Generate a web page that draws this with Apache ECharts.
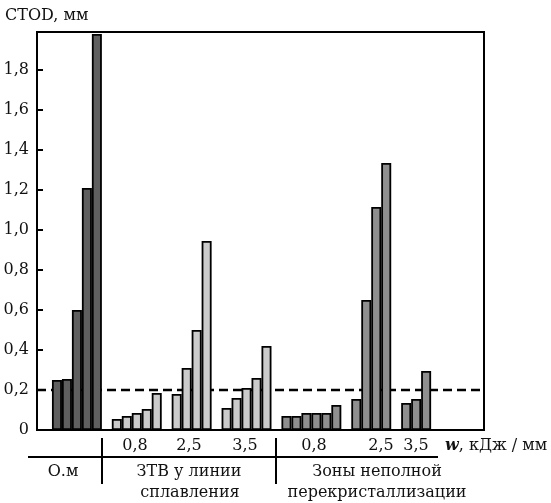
<!DOCTYPE html>
<html lang="ru">
<head>
    <meta charset="UTF-8">
    <title>CTOD</title>
    <script src="https://cdn.jsdelivr.net/npm/echarts@6/dist/echarts.min.js"></script>
    <style>
        html, body { margin: 0; padding: 0; background: #fff; }
    </style>
</head>
<body>
    <div id="main" style="width: 551px; height: 503px;"></div>
    <script type="text/javascript">
        // данные (мм)
        var baseMetal = [0.25, 0.255, 0.6, 1.21, 1.98];          // О.м
        var haz08 = [0.055, 0.07, 0.085, 0.105, 0.185];          // ЗТВ, 0,8
        var haz25 = [0.18, 0.31, 0.50, 0.945];                   // ЗТВ, 2,5
        var haz35 = [0.11, 0.16, 0.21, 0.26, 0.42];              // ЗТВ, 3,5
        var icz08 = [0.07, 0.07, 0.085, 0.085, 0.085, 0.125];    // зоны, 0,8
        var icz25 = [0.155, 0.65, 1.115, 1.335];                 // зоны, 2,5
        var icz35 = [0.135, 0.155, 0.295];                       // зоны, 3,5
        var ctodLimit = 0.2;

        var zoneNames = ['О.м', 'ЗТВ у линии\nсплавления', 'Зоны неполной\nперекристаллизации'];
        var energyLabels = ['0,8', '2,5', '3,5', '0,8', '2,5', '3,5'];
        var yTickLabels = ['0', '0,2', '0,4', '0,6', '0,8', '1,0', '1,2', '1,4', '1,6', '1,8'];

        var groups = [baseMetal, haz08, haz25, haz35, icz08, icz25, icz35];
        var groupZone = [0, 1, 1, 1, 2, 2, 2];
        var zoneColors = ['#5f5f5f', '#cbcbcb', '#8f8f8f'];

        // каждому столбику свой слот, между группами пустой слот
        var barData = [];
        var slot = 0;
        groups.forEach(function (g, gi) {
            g.forEach(function (v) {
                barData.push({ value: [slot, v], itemStyle: { color: zoneColors[groupZone[gi]] } });
                slot++;
            });
            slot++;
        });

        var font = 'DejaVu Serif';
        var ink = '#111';
        var xMin = -2, xMax = 42.8;

        function txt(x, y, s, align) {
            return {
                type: 'text', x: x, y: y,
                style: {
                    text: s, fill: ink, font: '16px "' + font + '"',
                    textAlign: align || 'center', textVerticalAlign: 'middle'
                }
            };
        }
        function seg(x1, y1, x2, y2) {
            return {
                type: 'line',
                shape: { x1: x1, y1: y1, x2: x2, y2: y2 },
                style: { stroke: '#000', lineWidth: 2 }
            };
        }

        var myChart = echarts.init(document.getElementById('main'));
        var option = {
            backgroundColor: '#fff',
            animation: false,
            grid: {
                left: 37, right: 67, top: 32, bottom: 73,
                show: true, borderColor: '#000', borderWidth: 2
            },
            xAxis: [{
                type: 'value', min: xMin, max: xMax,
                axisLine: { show: true, onZero: false, lineStyle: { color: '#000', width: 2 } },
                axisTick: { show: false }, axisLabel: { show: false },
                splitLine: { show: false }
            }],
            yAxis: {
                type: 'value', min: 0, max: 1.99, interval: 0.2,
                axisLine: { show: true, onZero: false, lineStyle: { color: '#000', width: 2 } },
                axisTick: { show: true, inside: true, length: 6, lineStyle: { color: '#000', width: 2 } },
                splitLine: { show: false },
                axisLabel: {
                    margin: 8, color: ink, fontFamily: font, fontSize: 16,
                    formatter: function (v) {
                        var i = Math.round(v / 0.2);
                        if (Math.abs(v - i * 0.2) > 1e-6) return '';
                        return yTickLabels[i] || '';
                    }
                }
            },
            series: [
                {
                    type: 'line', z: 1, symbol: 'none', silent: true,
                    data: [[xMin, ctodLimit], [xMax, ctodLimit]],
                    lineStyle: { color: '#000', width: 2.5, type: [9, 5] }
                },
                {
                    type: 'bar', z: 3, barWidth: 10,
                    data: barData,
                    itemStyle: { borderColor: '#000', borderWidth: 1.8 }
                }
            ],
            graphic: [
                txt(5, 16, 'CTOD, мм', 'left'),
                txt(135, 446, energyLabels[0]),
                txt(189, 446, energyLabels[1]),
                txt(245, 446, energyLabels[2]),
                txt(314, 446, energyLabels[3]),
                txt(381, 446, energyLabels[4]),
                txt(416, 446, energyLabels[5]),
                {
                    type: 'text', x: 445, y: 446,
                    style: {
                        text: '{w|w}, кДж / мм',
                        rich: { w: { fontStyle: 'italic', fontWeight: 'bold', fontFamily: font, fontSize: 16 } },
                        fill: ink, font: '16px "' + font + '"', textVerticalAlign: 'middle'
                    }
                },
                seg(28, 457, 438, 457),
                seg(102, 438, 102, 484),
                seg(276, 438, 276, 484),
                txt(63, 472, zoneNames[0]),
                txt(189, 472, zoneNames[1].split('\n')[0]),
                txt(190, 493, zoneNames[1].split('\n')[1]),
                txt(377, 472, zoneNames[2].split('\n')[0]),
                txt(377, 493, zoneNames[2].split('\n')[1])
            ]
        };
        myChart.setOption(option);
    </script>
</body>
</html>
